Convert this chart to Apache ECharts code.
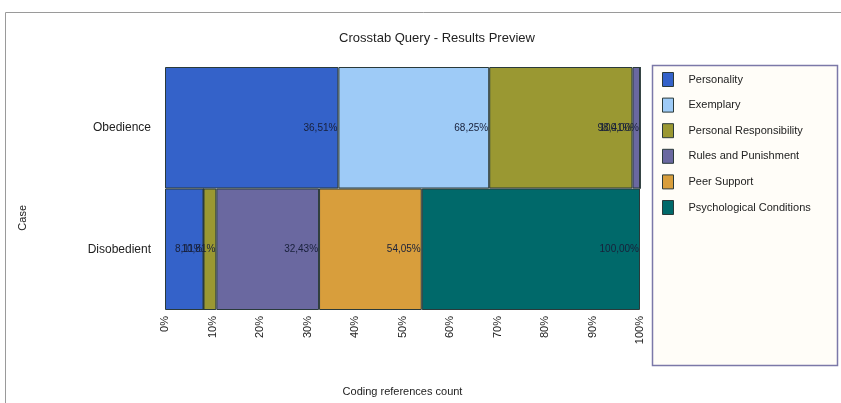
<!DOCTYPE html>
<html>
<head>
<meta charset="utf-8">
<script src="https://cdn.jsdelivr.net/npm/echarts@6/dist/echarts.min.js"></script>
<style>
  html, body { margin: 0; padding: 0; background: #ffffff; }
  #chart { width: 841px; height: 403px; }
</style>
</head>
<body>
<div id="chart"></div>
<script>
// 类别（从上到下）
var cases = ["Obedience", "Disobedient"]
var codeNames = ["Personality", "Exemplary", "Personal Responsibility", "Rules and Punishment", "Peer Support", "Psychological Conditions"]
var codeColors = ["#3462c9", "#9ecbf7", "#9a9832", "#6a68a0", "#d89e3c", "#00696a"]
// 引用计数 [Obedience, Disobedient]
var personality = [23, 3]
var exemplary = [20, 0]
var personalResp = [19, 1]
var rulesPunish = [1, 8]
var peerSupport = [0, 8]
var psychological = [0, 17]
var xTicks = ["0%", "10%", "20%", "30%", "40%", "50%", "60%", "70%", "80%", "90%", "100%"]

var counts = [personality, exemplary, personalResp, rulesPunish, peerSupport, psychological]

var chart = echarts.init(document.getElementById("chart"))

var totals = cases.map(function (c, j) {
  var s = 0
  counts.forEach(function (arr) { s += arr[j] })
  return s
})

var running = cases.map(function () { return 0 })
var series = counts.map(function (arr, i) {
  var data = arr.map(function (v, j) {
    var pct = v / totals[j] * 100
    running[j] += v
    var cum = running[j] / totals[j] * 100
    return { value: pct, cum: cum }
  })
  return {
    name: codeNames[i],
    type: "bar",
    stack: "all",
    barWidth: "100%",
    itemStyle: { color: codeColors[i], borderColor: "#2a3a3a", borderWidth: 1 },
    label: {
      show: true,
      position: "insideRight",
      distance: 1,
      fontFamily: "Liberation Sans",
      fontSize: 10,
      color: "#18203a",
      formatter: function (p) {
        if (p.data.value === 0) return ""
        return p.data.cum.toFixed(2).replace(".", ",") + "%"
      }
    },
    data: data
  }
})

var option = {
  animation: false,
  title: {
    text: "Crosstab Query - Results Preview",
    left: 432,
    top: 27,
    textAlign: "center",
    textStyle: { fontFamily: "Liberation Sans", fontSize: 13, fontWeight: "normal", color: "#222" }
  },
  grid: { left: 165, right: 201, top: 67, bottom: 93, containLabel: false },
  legend: {
    orient: "vertical",
    left: 657,
    top: 67,
    itemWidth: 11,
    itemHeight: 14,
    itemGap: 10.6,
    icon: "rect",
    data: codeNames,
    itemStyle: { borderColor: "#2a3a3a", borderWidth: 1 },
    textStyle: { fontFamily: "Liberation Sans", fontSize: 11, color: "#222", padding: [0, 0, 0, 10] }
  },
  graphic: [
    {
      type: "rect",
      shape: { x: 5.5, y: 12.5, width: 900, height: 500 },
      style: { fill: "none", stroke: "#9a9a9a", lineWidth: 1 },
      z: -10
    },
    {
      type: "rect",
      shape: { x: 652.5, y: 65.5, width: 185, height: 300 },
      style: { fill: "#fffdf8", stroke: "#7b78a8", lineWidth: 1.5 },
      z: -5
    },
    {
      type: "text",
      left: 17,
      top: 205,
      rotation: Math.PI / 2,
      style: { text: "Case", font: "11px Liberation Sans", fill: "#222" }
    }
  ],
  xAxis: {
    type: "value",
    min: 0,
    max: 100,
    interval: 10,
    name: "Coding references count",
    nameLocation: "middle",
    nameGap: 76,
    nameTextStyle: { fontFamily: "Liberation Sans", fontSize: 11, color: "#222" },
    axisLine: { show: false },
    axisTick: { show: false },
    splitLine: { show: false },
    axisLabel: {
      rotate: 90,
      margin: 6,
      fontFamily: "Liberation Sans",
      fontSize: 11,
      color: "#222",
      formatter: function (v) { return xTicks[Math.round(v / 10)] }
    }
  },
  yAxis: {
    type: "category",
    inverse: true,
    data: cases,
    axisLine: { show: false },
    axisTick: { show: false },
    axisLabel: { margin: 14, fontFamily: "Liberation Sans", fontSize: 12, color: "#222" }
  },
  series: series
}

chart.setOption(option)
</script>
</body>
</html>
